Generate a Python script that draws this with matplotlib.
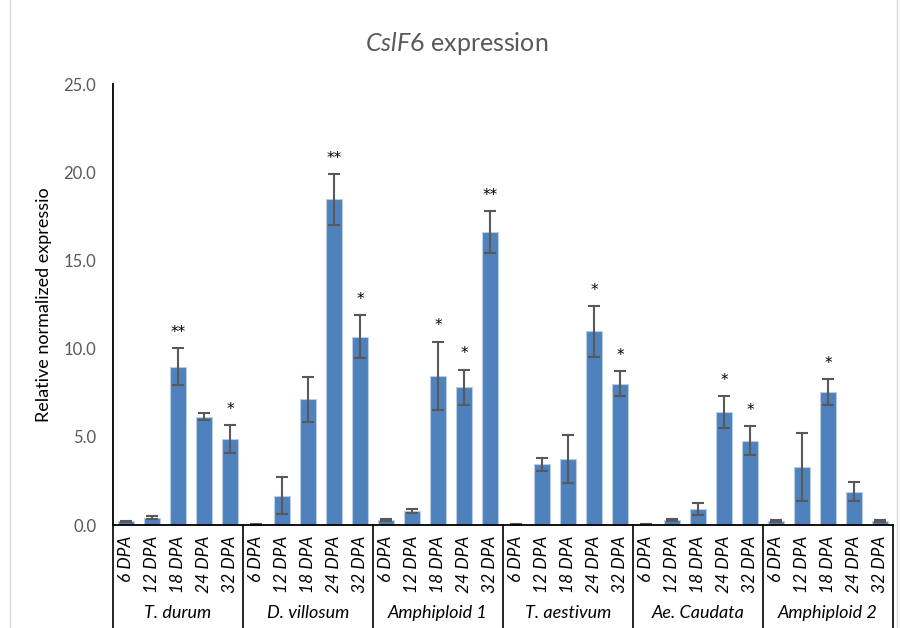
import numpy as np
import matplotlib
matplotlib.use("Agg")
import matplotlib.pyplot as plt
from matplotlib.transforms import blended_transform_factory
from matplotlib.patches import Rectangle

plt.rcParams['font.family'] = ['Lato', 'DejaVu Sans']
plt.rcParams['mathtext.fontset'] = 'custom'
plt.rcParams['mathtext.it'] = 'Lato:italic'
plt.rcParams['mathtext.rm'] = 'Lato'

# data
groups = ['T. durum', 'D. villosum', 'Amphiploid 1', 'T. aestivum', 'Ae. Caudata', 'Amphiploid 2']
stages = ['6 DPA', '12 DPA', '18 DPA', '24 DPA', '32 DPA']

t_durum = [0.20, 0.42, 8.98, 6.15, 4.87]
d_villosum = [0.03, 1.66, 7.12, 18.46, 10.68]
amphiploid_1 = [0.27, 0.79, 8.45, 7.81, 16.61]
t_aestivum = [0.04, 3.44, 3.74, 10.98, 8.02]
ae_caudata = [0.05, 0.28, 0.91, 6.40, 4.78]
amphiploid_2 = [0.24, 3.30, 7.54, 1.90, 0.24]

t_durum_err = [0.05, 0.10, 1.05, 0.22, 0.78]
d_villosum_err = [0.02, 1.05, 1.30, 1.43, 1.23]
amphiploid_1_err = [0.05, 0.13, 1.95, 1.00, 1.19]
t_aestivum_err = [0.02, 0.38, 1.38, 1.43, 0.72]
ae_caudata_err = [0.02, 0.04, 0.36, 0.90, 0.82]
amphiploid_2_err = [0.05, 1.93, 0.74, 0.52, 0.05]

t_durum_sig = ['', '', '**', '', '*']
d_villosum_sig = ['', '', '', '**', '*']
amphiploid_1_sig = ['', '', '*', '*', '**']
t_aestivum_sig = ['', '', '', '*', '*']
ae_caudata_sig = ['', '', '', '*', '*']
amphiploid_2_sig = ['', '', '*', '', '']

values = t_durum + d_villosum + amphiploid_1 + t_aestivum + ae_caudata + amphiploid_2
errors = t_durum_err + d_villosum_err + amphiploid_1_err + t_aestivum_err + ae_caudata_err + amphiploid_2_err
signif = t_durum_sig + d_villosum_sig + amphiploid_1_sig + t_aestivum_sig + ae_caudata_sig + amphiploid_2_sig

x = np.arange(len(values))
n = len(stages)

fig = plt.figure(figsize=(9.01, 6.28), dpi=100)
ax = fig.add_axes([0.1254, 0.164, 0.8657, 0.702])

ax.bar(x, values, width=0.65, color='#4F81BD', edgecolor='#B9CDE5', linewidth=0.8,
       yerr=errors, capsize=4, error_kw=dict(ecolor='#595959', elinewidth=1.5, capthick=1.5))

# significance stars
for xi, v, e, s in zip(x, values, errors, signif):
    if s:
        ax.annotate(s, (xi, v + e), xytext=(0, 6), textcoords='offset points',
                    ha='center', va='bottom', fontsize=11, color='#000000',
                    family='DejaVu Sans')

ax.set_xlim(-0.5, len(values) - 0.5)
ax.set_ylim(0, 25)
ax.set_yticks(np.arange(0, 25.1, 5))
ax.set_yticklabels(['%.1f' % t for t in np.arange(0, 25.1, 5)])
ax.tick_params(axis='y', length=0, labelsize=12, labelcolor='#595959', pad=12)

ax.set_xticks(x)
ax.set_xticklabels(stages * len(groups), rotation=90, fontstyle='italic', fontsize=12.5)
ax.tick_params(axis='x', length=0, pad=8, labelcolor='#000000')

for side in ['top', 'right']:
    ax.spines[side].set_visible(False)
ax.spines['left'].set_linewidth(1.3)
ax.spines['bottom'].set_linewidth(1.3)

ax.set_ylabel('Relative normalized expressio', fontsize=13, labelpad=8)

# grouped category axis
trans = blended_transform_factory(ax.transData, ax.transAxes)
for k in range(len(groups) + 1):
    xb = k * n - 0.5
    ax.plot([xb, xb], [0, -0.235], transform=trans, color='black', lw=1.2, clip_on=False)
for k, g in enumerate(groups):
    ax.text(k * n + (n - 1) / 2, -0.20, g, transform=trans, ha='center', va='center',
            fontstyle='italic', fontsize=13)

fig.text(0.507, 0.93, r'$\mathit{CslF6}$ expression', ha='center', va='center',
         fontsize=18, color='#595959')

fig.patches.append(Rectangle((0.011, -0.01), 0.985, 1.02, transform=fig.transFigure,
                             fill=False, edgecolor='#D9D9D9', lw=1))

plt.savefig('out.png', dpi=100)
